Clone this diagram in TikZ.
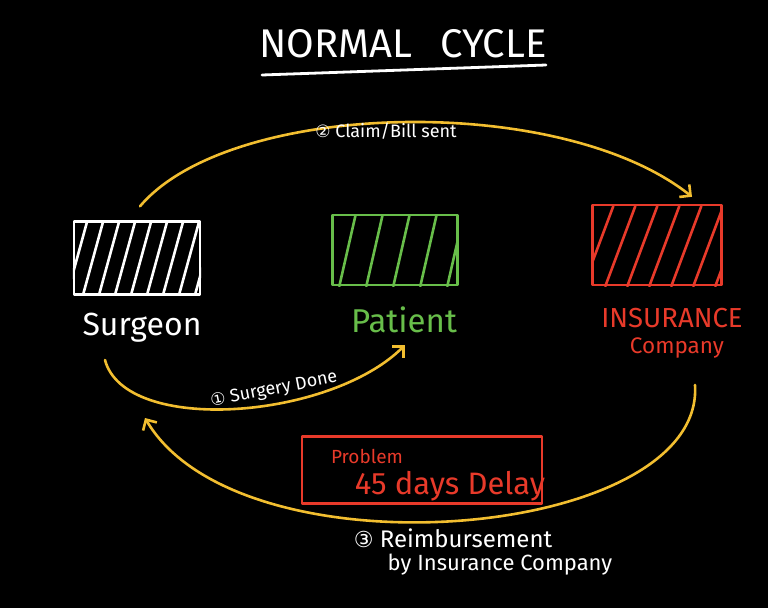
\documentclass[tikz,border=0pt]{standalone}
\usepackage{fontspec}
\setmainfont{Fira Sans}
\newfontfamily\symfont{DejaVu Sans}
\usetikzlibrary{arrows.meta}
\definecolor{ylw}{RGB}{242,190,48}
\definecolor{grn}{RGB}{104,190,74}
\definecolor{rd}{RGB}{232,58,42}
\newcommand{\fs}[1]{\fontsize{#1}{#1}\selectfont}
\begin{document}
\begin{tikzpicture}[x=1pt,y=-1pt,line cap=round,line join=round]
\tikzset{
  hbox/.style={draw=#1,line width=2.4pt,inner sep=0pt},
  hatchline/.style={draw=#1,line width=2.6pt},
  arr/.style={draw=ylw,line width=2.6pt,-{Straight Barb[length=8pt,width=16pt,line width=2.6pt]}},
  small/.style={text=white,font=\fs{18},inner sep=1pt},
}
\fill[black] (0,0) rectangle (768,608);
\useasboundingbox (0,0) rectangle (768,608);

% title
\node[text=white,font=\fs{40}] (title) at (403,44) {NORMAL\hspace{0.7em}CYCLE};
\draw[white,line width=2.8pt] (262,75) -- (546,65);

% boxes
\node[hbox=white,minimum width=126pt,minimum height=73pt] (sur) at (137,258) {};
\node[hbox=grn,minimum width=125pt,minimum height=70pt] (pat) at (395,250) {};
\node[hbox=rd,minimum width=129pt,minimum height=80pt] (ins) at (657,245) {};

% hatching
\begin{scope}
  \clip (sur.south west) rectangle (sur.north east);
  \foreach \i in {0,...,8} \draw[hatchline=white] ([xshift=\i*16pt-6pt]sur.south west) -- ++(20pt,73pt);
\end{scope}
\begin{scope}
  \clip (pat.south west) rectangle (pat.north east);
  \foreach \i in {0,...,4} \draw[hatchline=grn] ([xshift=\i*27pt+8pt]pat.south west) -- ++(16pt,70pt);
\end{scope}
\begin{scope}
  \clip (ins.south west) rectangle (ins.north east);
  \foreach \i in {0,...,6} \draw[hatchline=rd] ([xshift=\i*22pt-8pt]ins.south west) -- ++(30pt,80pt);
\end{scope}

% labels
\node[text=white,font=\fs{32}] (surl) at (142,328) {Surgeon};
\node[text=grn,font=\fs{33}] (patl) at (404,320) {Patient};
\node[text=rd,font=\fs{27.5}] (insl) at (672,318) {INSURANCE};
\node[text=rd,font=\fs{22.5}] (coml) at (677,348) {Company};

% arrows
\draw[arr] ([xshift=3pt,yshift=14pt]sur.north) .. controls (230,100) and (560,92) .. ([xshift=35pt,yshift=7pt]ins.north);
\draw[arr] ([shift={(-37pt,-32pt)}]surl.center) .. controls (125,435) and (330,420) .. ([shift={(1pt,-25pt)}]patl.center);
\draw[arr] ([shift={(18pt,-37pt)}]coml.center) .. controls (705,540) and (240,580) .. ([shift={(3pt,-90pt)}]surl.center);

% arrow labels
\node[small] (lab2) at (386,131) {{\symfont\fs{17}②} Claim/Bill sent};
\node[small,rotate=11] (lab1) at (274,390) {{\symfont\fs{17}①} Surgery Done};

% problem box
\node[hbox=rd,minimum width=240pt,minimum height=67pt] (prob) at (422,470) {};
\node[text=rd,font=\fs{19}] (probt) at (367,456) {Problem};
\node[text=rd,font=\fs{31}] (delay) at (450,486) {45 days Delay};

% reimbursement
\node[text=white,font=\fs{24}] (re1) at (453,538) {{\symfont\fs{22}③} Reimbursement};
\node[text=white,font=\fs{22}] (re2) at (500,565) {by Insurance Company};
\end{tikzpicture}
\end{document}
